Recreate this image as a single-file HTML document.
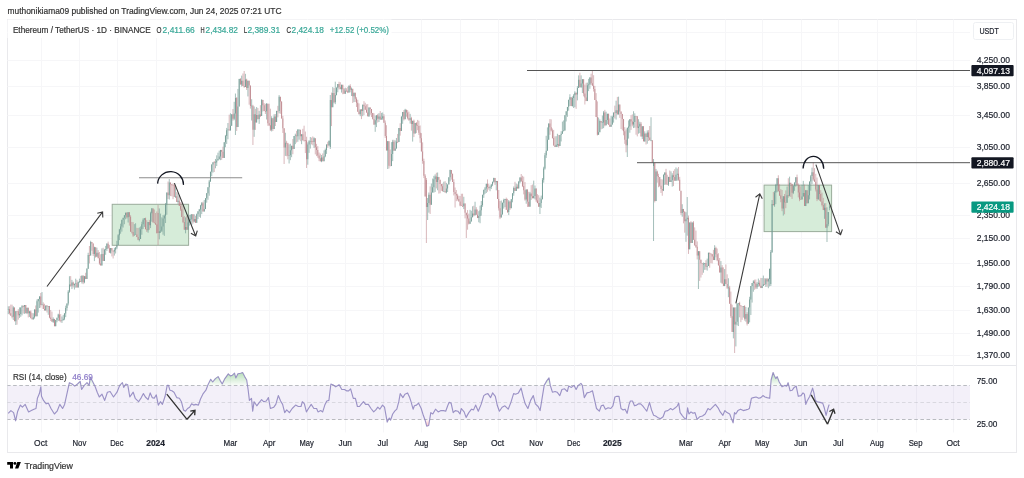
<!DOCTYPE html>
<html><head><meta charset="utf-8"><style>
html,body{margin:0;padding:0;background:#fff;}
body{width:1024px;height:478px;position:relative;overflow:hidden;font-family:"Liberation Sans",Arial,sans-serif;}
#chart{position:absolute;left:0;top:0;filter:blur(0.28px);}
</style></head><body>
<svg id="chart" width="1024" height="478" viewBox="0 0 1024 478">
<defs><filter id="cb" x="-5%" y="-5%" width="110%" height="110%"><feColorMatrix type="saturate" values="0.6"/><feGaussianBlur stdDeviation="0.35"/></filter><filter id="lb" x="-5%" y="-20%" width="110%" height="140%"><feGaussianBlur stdDeviation="0.3"/></filter></defs>
<rect x="7.5" y="19.5" width="1009" height="433" fill="none" stroke="#e9e9ec"/>
<path d="M7.5 365.5H1016" stroke="#e6e7eb" stroke-width="1"/>
<path d="M7.5 60.5H970M7.5 86.5H970M7.5 115.5H970M7.5 147.5H970M7.5 183.5H970M7.5 215.5H970M7.5 238.5H970M7.5 263.5H970M7.5 286.5H970M7.5 310.5H970M7.5 333.5H970M7.5 355.5H970M41.5 19.5V432.5M79.5 19.5V432.5M117.5 19.5V432.5M156.5 19.5V432.5M230.5 19.5V432.5M269.5 19.5V432.5M307.5 19.5V432.5M345.5 19.5V432.5M383.5 19.5V432.5M421.5 19.5V432.5M460.5 19.5V432.5M498.5 19.5V432.5M536.5 19.5V432.5M574.5 19.5V432.5M612.5 19.5V432.5M686.5 19.5V432.5M725.5 19.5V432.5M762.5 19.5V432.5M801.5 19.5V432.5M838.5 19.5V432.5M877.5 19.5V432.5M916.5 19.5V432.5M953.5 19.5V432.5M7.5 32.5H970" stroke="#f6f6f8" stroke-width="1" fill="none"/>
<rect x="7.5" y="19.5" width="384" height="18.5" fill="#fff"/>
<rect x="7.5" y="385.5" width="962.5" height="34.0" fill="#7e57c2" fill-opacity="0.09"/>
<path d="M7.5 385.5H970" stroke="#a9acb3" stroke-width="1" stroke-dasharray="3.6 2.53" stroke-dashoffset="0.49" opacity="0.8" fill="none"/>
<path d="M7.5 402.5H970" stroke="#a9acb3" stroke-width="1" stroke-dasharray="3.6 2.53" stroke-dashoffset="0.49" opacity="0.35" fill="none"/>
<path d="M7.5 419.5H970" stroke="#a9acb3" stroke-width="1" stroke-dasharray="3.6 2.53" stroke-dashoffset="0.49" opacity="0.8" fill="none"/>
<linearGradient id="obg" gradientUnits="userSpaceOnUse" x1="0" y1="371" x2="0" y2="385.5"><stop offset="0" stop-color="#4caf50" stop-opacity="0.45"/><stop offset="1" stop-color="#4caf50" stop-opacity="0.03"/></linearGradient>
<linearGradient id="osg" gradientUnits="userSpaceOnUse" x1="0" y1="419.5" x2="0" y2="428"><stop offset="0" stop-color="#f23645" stop-opacity="0.03"/><stop offset="1" stop-color="#f23645" stop-opacity="0.4"/></linearGradient>
<clipPath id="ob"><rect x="0" y="0" width="1024" height="385.5"/></clipPath>
<clipPath id="os"><rect x="0" y="419.5" width="1024" height="30"/></clipPath>
<polygon points="8.2,385.5 8.2,413.3 10.9,410.6 13.6,412.6 15.6,420.8 17.7,411.2 20.4,405.1 22.4,407.2 25.2,404.4 28.6,411.9 31.3,410.6 34.0,409.2 36.0,408.5 37.4,398.3 39.4,393.6 40.8,386.8 41.5,396.3 43.5,400.4 46.2,403.8 48.3,403.1 51.0,408.5 54.4,414.0 57.1,411.2 59.8,404.4 62.6,408.5 64.6,404.4 67.3,392.2 69.4,382.7 72.1,384.0 74.8,386.1 77.5,384.0 80.2,381.3 81.6,389.5 84.3,385.4 87.0,382.7 89.1,385.4 90.4,377.2 92.5,381.3 95.2,386.8 97.2,392.2 99.3,397.0 102.0,394.2 104.7,400.4 107.4,392.2 110.1,391.5 113.5,397.0 117.0,392.2 119.7,385.4 122.4,382.7 123.7,387.4 125.8,384.0 127.7,384.7 129.8,397.0 131.8,394.2 133.2,392.2 135.2,398.3 138.6,401.7 141.3,397.6 143.4,393.6 145.4,397.0 148.1,399.7 150.2,392.9 152.2,397.6 154.2,398.3 156.3,394.9 158.3,405.1 160.4,401.7 162.4,404.4 165.1,396.3 167.2,385.4 168.5,385.4 169.9,390.2 171.9,390.8 174.0,392.2 176.7,397.6 179.4,398.3 181.4,401.7 183.5,409.9 185.5,411.2 187.6,408.5 189.6,407.2 191.6,403.8 193.7,405.1 195.7,404.4 198.4,405.1 200.5,399.0 203.2,393.6 205.9,390.2 208.0,384.7 210.7,379.3 212.7,382.0 215.4,378.6 218.1,376.6 220.2,380.6 222.2,384.0 224.9,378.6 228.3,373.8 230.4,375.9 232.4,375.2 234.5,373.2 235.8,377.9 237.9,373.8 240.6,373.2 242.6,372.5 244.7,376.6 246.7,380.0 248.1,389.5 249.4,400.4 251.5,398.3 252.7,411.2 254.1,401.7 256.8,405.8 258.8,403.1 261.6,399.7 263.6,401.7 266.3,401.0 268.4,397.6 270.4,408.5 273.8,407.2 275.8,404.4 278.3,395.6 280.6,401.0 282.6,404.4 284.7,412.6 286.7,409.9 289.4,412.6 292.2,408.5 295.6,405.1 298.3,406.5 301.0,406.5 302.4,401.7 304.4,403.8 306.4,411.9 308.5,408.5 311.2,404.4 313.9,408.5 316.6,408.5 318.0,411.9 320.7,410.6 322.7,411.9 324.8,405.1 326.8,401.0 328.9,400.4 330.9,384.0 332.9,384.7 335.7,386.8 339.1,384.7 341.8,389.5 344.5,389.5 346.5,390.8 348.6,390.8 350.6,388.8 353.3,398.3 355.4,398.3 357.4,406.5 359.5,406.5 361.5,403.8 363.5,401.7 365.6,404.4 368.3,404.4 371.0,408.5 373.7,411.9 375.8,409.9 377.8,407.2 379.8,409.2 382.5,405.1 384.5,407.2 387.2,422.1 389.3,418.0 390.6,420.1 392.7,414.0 394.7,411.2 396.8,409.2 398.8,401.7 400.2,393.6 402.9,397.6 404.9,394.2 407.6,392.9 409.7,397.6 411.0,401.7 413.1,409.2 414.4,405.8 416.5,405.1 418.5,403.1 421.2,408.5 423.3,415.3 425.3,420.8 426.7,426.2 428.7,425.5 430.8,412.6 432.8,414.0 435.5,409.2 438.2,411.9 441.0,410.6 443.7,410.6 445.7,411.2 447.7,405.8 449.1,402.4 451.1,403.1 453.2,412.6 455.2,410.6 457.9,411.2 460.0,414.0 461.3,408.5 464.1,411.9 466.1,417.4 468.8,412.6 471.5,409.2 473.6,409.9 475.6,405.1 478.3,411.2 481.1,404.4 483.8,395.6 485.8,394.2 487.9,393.6 490.6,397.6 492.6,392.9 495.3,396.3 497.4,405.8 499.4,411.2 502.1,407.2 504.9,405.8 508.2,409.2 510.9,402.4 513.6,393.6 515.6,394.2 518.4,392.9 521.1,388.1 523.1,396.3 525.2,403.8 527.9,408.5 530.6,400.4 533.3,395.6 535.4,403.8 538.1,406.5 540.1,410.6 542.2,397.6 544.2,385.4 546.9,380.6 549.0,377.9 550.3,385.4 552.4,392.2 555.1,391.5 557.1,392.2 559.8,395.6 561.9,389.5 564.6,388.8 567.3,391.5 568.7,386.1 571.4,387.4 574.1,385.4 576.1,389.5 578.2,385.4 580.9,383.4 582.3,385.4 584.3,397.6 587.0,392.9 589.7,392.2 592.5,390.8 594.5,399.7 596.5,408.5 599.3,411.2 601.3,405.8 603.3,405.1 605.4,409.2 608.1,407.8 610.8,408.5 612.9,405.8 614.9,397.0 616.9,396.3 619.0,396.3 621.0,408.5 623.1,409.9 625.1,409.2 627.1,413.3 629.1,404.4 630.4,401.0 632.5,401.0 634.5,405.8 636.6,405.1 638.6,403.8 640.6,403.8 642.7,405.8 644.7,408.5 646.8,411.2 649.5,402.4 651.5,409.9 653.6,415.3 655.6,416.0 657.6,417.4 660.4,418.7 663.1,416.7 665.1,411.2 667.8,410.6 670.6,408.5 672.6,409.9 675.3,407.8 677.4,405.8 678.7,403.1 680.1,412.6 682.1,415.3 684.2,418.0 686.2,419.4 687.6,407.8 688.9,414.0 691.0,411.9 693.0,413.3 695.0,412.6 697.1,419.4 699.8,416.7 702.5,416.0 705.2,414.0 708.0,408.5 710.0,409.9 712.7,407.2 715.4,404.4 718.1,407.8 720.2,411.9 722.9,415.3 724.9,410.6 727.0,412.6 729.7,414.0 731.7,419.4 733.1,422.8 734.5,412.6 735.8,414.0 737.9,410.6 740.6,409.2 743.3,410.6 746.0,409.9 748.1,409.2 749.4,408.5 751.4,398.3 753.4,397.6 756.1,397.0 758.8,398.3 760.9,397.6 762.9,395.6 765.0,397.0 767.0,397.6 769.7,398.3 771.1,380.0 773.1,372.5 774.5,375.9 775.8,378.6 777.2,376.6 779.2,382.0 782.0,386.8 784.7,385.4 786.7,386.1 788.1,382.7 790.1,390.8 792.2,390.2 794.2,387.4 796.2,386.1 798.3,396.3 801.0,395.6 803.0,392.9 804.4,394.2 805.8,404.4 807.1,401.0 809.8,396.3 812.6,388.1 813.9,392.9 815.3,400.4 817.3,401.7 820.0,402.4 822.7,403.1 824.1,407.2 826.1,415.3 827.5,409.9 828.9,405.1 829.5,404.9 829.5,385.5" fill="url(#obg)" clip-path="url(#ob)"/>
<polygon points="8.2,419.5 8.2,413.3 10.9,410.6 13.6,412.6 15.6,420.8 17.7,411.2 20.4,405.1 22.4,407.2 25.2,404.4 28.6,411.9 31.3,410.6 34.0,409.2 36.0,408.5 37.4,398.3 39.4,393.6 40.8,386.8 41.5,396.3 43.5,400.4 46.2,403.8 48.3,403.1 51.0,408.5 54.4,414.0 57.1,411.2 59.8,404.4 62.6,408.5 64.6,404.4 67.3,392.2 69.4,382.7 72.1,384.0 74.8,386.1 77.5,384.0 80.2,381.3 81.6,389.5 84.3,385.4 87.0,382.7 89.1,385.4 90.4,377.2 92.5,381.3 95.2,386.8 97.2,392.2 99.3,397.0 102.0,394.2 104.7,400.4 107.4,392.2 110.1,391.5 113.5,397.0 117.0,392.2 119.7,385.4 122.4,382.7 123.7,387.4 125.8,384.0 127.7,384.7 129.8,397.0 131.8,394.2 133.2,392.2 135.2,398.3 138.6,401.7 141.3,397.6 143.4,393.6 145.4,397.0 148.1,399.7 150.2,392.9 152.2,397.6 154.2,398.3 156.3,394.9 158.3,405.1 160.4,401.7 162.4,404.4 165.1,396.3 167.2,385.4 168.5,385.4 169.9,390.2 171.9,390.8 174.0,392.2 176.7,397.6 179.4,398.3 181.4,401.7 183.5,409.9 185.5,411.2 187.6,408.5 189.6,407.2 191.6,403.8 193.7,405.1 195.7,404.4 198.4,405.1 200.5,399.0 203.2,393.6 205.9,390.2 208.0,384.7 210.7,379.3 212.7,382.0 215.4,378.6 218.1,376.6 220.2,380.6 222.2,384.0 224.9,378.6 228.3,373.8 230.4,375.9 232.4,375.2 234.5,373.2 235.8,377.9 237.9,373.8 240.6,373.2 242.6,372.5 244.7,376.6 246.7,380.0 248.1,389.5 249.4,400.4 251.5,398.3 252.7,411.2 254.1,401.7 256.8,405.8 258.8,403.1 261.6,399.7 263.6,401.7 266.3,401.0 268.4,397.6 270.4,408.5 273.8,407.2 275.8,404.4 278.3,395.6 280.6,401.0 282.6,404.4 284.7,412.6 286.7,409.9 289.4,412.6 292.2,408.5 295.6,405.1 298.3,406.5 301.0,406.5 302.4,401.7 304.4,403.8 306.4,411.9 308.5,408.5 311.2,404.4 313.9,408.5 316.6,408.5 318.0,411.9 320.7,410.6 322.7,411.9 324.8,405.1 326.8,401.0 328.9,400.4 330.9,384.0 332.9,384.7 335.7,386.8 339.1,384.7 341.8,389.5 344.5,389.5 346.5,390.8 348.6,390.8 350.6,388.8 353.3,398.3 355.4,398.3 357.4,406.5 359.5,406.5 361.5,403.8 363.5,401.7 365.6,404.4 368.3,404.4 371.0,408.5 373.7,411.9 375.8,409.9 377.8,407.2 379.8,409.2 382.5,405.1 384.5,407.2 387.2,422.1 389.3,418.0 390.6,420.1 392.7,414.0 394.7,411.2 396.8,409.2 398.8,401.7 400.2,393.6 402.9,397.6 404.9,394.2 407.6,392.9 409.7,397.6 411.0,401.7 413.1,409.2 414.4,405.8 416.5,405.1 418.5,403.1 421.2,408.5 423.3,415.3 425.3,420.8 426.7,426.2 428.7,425.5 430.8,412.6 432.8,414.0 435.5,409.2 438.2,411.9 441.0,410.6 443.7,410.6 445.7,411.2 447.7,405.8 449.1,402.4 451.1,403.1 453.2,412.6 455.2,410.6 457.9,411.2 460.0,414.0 461.3,408.5 464.1,411.9 466.1,417.4 468.8,412.6 471.5,409.2 473.6,409.9 475.6,405.1 478.3,411.2 481.1,404.4 483.8,395.6 485.8,394.2 487.9,393.6 490.6,397.6 492.6,392.9 495.3,396.3 497.4,405.8 499.4,411.2 502.1,407.2 504.9,405.8 508.2,409.2 510.9,402.4 513.6,393.6 515.6,394.2 518.4,392.9 521.1,388.1 523.1,396.3 525.2,403.8 527.9,408.5 530.6,400.4 533.3,395.6 535.4,403.8 538.1,406.5 540.1,410.6 542.2,397.6 544.2,385.4 546.9,380.6 549.0,377.9 550.3,385.4 552.4,392.2 555.1,391.5 557.1,392.2 559.8,395.6 561.9,389.5 564.6,388.8 567.3,391.5 568.7,386.1 571.4,387.4 574.1,385.4 576.1,389.5 578.2,385.4 580.9,383.4 582.3,385.4 584.3,397.6 587.0,392.9 589.7,392.2 592.5,390.8 594.5,399.7 596.5,408.5 599.3,411.2 601.3,405.8 603.3,405.1 605.4,409.2 608.1,407.8 610.8,408.5 612.9,405.8 614.9,397.0 616.9,396.3 619.0,396.3 621.0,408.5 623.1,409.9 625.1,409.2 627.1,413.3 629.1,404.4 630.4,401.0 632.5,401.0 634.5,405.8 636.6,405.1 638.6,403.8 640.6,403.8 642.7,405.8 644.7,408.5 646.8,411.2 649.5,402.4 651.5,409.9 653.6,415.3 655.6,416.0 657.6,417.4 660.4,418.7 663.1,416.7 665.1,411.2 667.8,410.6 670.6,408.5 672.6,409.9 675.3,407.8 677.4,405.8 678.7,403.1 680.1,412.6 682.1,415.3 684.2,418.0 686.2,419.4 687.6,407.8 688.9,414.0 691.0,411.9 693.0,413.3 695.0,412.6 697.1,419.4 699.8,416.7 702.5,416.0 705.2,414.0 708.0,408.5 710.0,409.9 712.7,407.2 715.4,404.4 718.1,407.8 720.2,411.9 722.9,415.3 724.9,410.6 727.0,412.6 729.7,414.0 731.7,419.4 733.1,422.8 734.5,412.6 735.8,414.0 737.9,410.6 740.6,409.2 743.3,410.6 746.0,409.9 748.1,409.2 749.4,408.5 751.4,398.3 753.4,397.6 756.1,397.0 758.8,398.3 760.9,397.6 762.9,395.6 765.0,397.0 767.0,397.6 769.7,398.3 771.1,380.0 773.1,372.5 774.5,375.9 775.8,378.6 777.2,376.6 779.2,382.0 782.0,386.8 784.7,385.4 786.7,386.1 788.1,382.7 790.1,390.8 792.2,390.2 794.2,387.4 796.2,386.1 798.3,396.3 801.0,395.6 803.0,392.9 804.4,394.2 805.8,404.4 807.1,401.0 809.8,396.3 812.6,388.1 813.9,392.9 815.3,400.4 817.3,401.7 820.0,402.4 822.7,403.1 824.1,407.2 826.1,415.3 827.5,409.9 828.9,405.1 829.5,404.9 829.5,419.5" fill="url(#osg)" clip-path="url(#os)"/>
<polyline points="8.2,413.3 10.9,410.6 13.6,412.6 15.6,420.8 17.7,411.2 20.4,405.1 22.4,407.2 25.2,404.4 28.6,411.9 31.3,410.6 34.0,409.2 36.0,408.5 37.4,398.3 39.4,393.6 40.8,386.8 41.5,396.3 43.5,400.4 46.2,403.8 48.3,403.1 51.0,408.5 54.4,414.0 57.1,411.2 59.8,404.4 62.6,408.5 64.6,404.4 67.3,392.2 69.4,382.7 72.1,384.0 74.8,386.1 77.5,384.0 80.2,381.3 81.6,389.5 84.3,385.4 87.0,382.7 89.1,385.4 90.4,377.2 92.5,381.3 95.2,386.8 97.2,392.2 99.3,397.0 102.0,394.2 104.7,400.4 107.4,392.2 110.1,391.5 113.5,397.0 117.0,392.2 119.7,385.4 122.4,382.7 123.7,387.4 125.8,384.0 127.7,384.7 129.8,397.0 131.8,394.2 133.2,392.2 135.2,398.3 138.6,401.7 141.3,397.6 143.4,393.6 145.4,397.0 148.1,399.7 150.2,392.9 152.2,397.6 154.2,398.3 156.3,394.9 158.3,405.1 160.4,401.7 162.4,404.4 165.1,396.3 167.2,385.4 168.5,385.4 169.9,390.2 171.9,390.8 174.0,392.2 176.7,397.6 179.4,398.3 181.4,401.7 183.5,409.9 185.5,411.2 187.6,408.5 189.6,407.2 191.6,403.8 193.7,405.1 195.7,404.4 198.4,405.1 200.5,399.0 203.2,393.6 205.9,390.2 208.0,384.7 210.7,379.3 212.7,382.0 215.4,378.6 218.1,376.6 220.2,380.6 222.2,384.0 224.9,378.6 228.3,373.8 230.4,375.9 232.4,375.2 234.5,373.2 235.8,377.9 237.9,373.8 240.6,373.2 242.6,372.5 244.7,376.6 246.7,380.0 248.1,389.5 249.4,400.4 251.5,398.3 252.7,411.2 254.1,401.7 256.8,405.8 258.8,403.1 261.6,399.7 263.6,401.7 266.3,401.0 268.4,397.6 270.4,408.5 273.8,407.2 275.8,404.4 278.3,395.6 280.6,401.0 282.6,404.4 284.7,412.6 286.7,409.9 289.4,412.6 292.2,408.5 295.6,405.1 298.3,406.5 301.0,406.5 302.4,401.7 304.4,403.8 306.4,411.9 308.5,408.5 311.2,404.4 313.9,408.5 316.6,408.5 318.0,411.9 320.7,410.6 322.7,411.9 324.8,405.1 326.8,401.0 328.9,400.4 330.9,384.0 332.9,384.7 335.7,386.8 339.1,384.7 341.8,389.5 344.5,389.5 346.5,390.8 348.6,390.8 350.6,388.8 353.3,398.3 355.4,398.3 357.4,406.5 359.5,406.5 361.5,403.8 363.5,401.7 365.6,404.4 368.3,404.4 371.0,408.5 373.7,411.9 375.8,409.9 377.8,407.2 379.8,409.2 382.5,405.1 384.5,407.2 387.2,422.1 389.3,418.0 390.6,420.1 392.7,414.0 394.7,411.2 396.8,409.2 398.8,401.7 400.2,393.6 402.9,397.6 404.9,394.2 407.6,392.9 409.7,397.6 411.0,401.7 413.1,409.2 414.4,405.8 416.5,405.1 418.5,403.1 421.2,408.5 423.3,415.3 425.3,420.8 426.7,426.2 428.7,425.5 430.8,412.6 432.8,414.0 435.5,409.2 438.2,411.9 441.0,410.6 443.7,410.6 445.7,411.2 447.7,405.8 449.1,402.4 451.1,403.1 453.2,412.6 455.2,410.6 457.9,411.2 460.0,414.0 461.3,408.5 464.1,411.9 466.1,417.4 468.8,412.6 471.5,409.2 473.6,409.9 475.6,405.1 478.3,411.2 481.1,404.4 483.8,395.6 485.8,394.2 487.9,393.6 490.6,397.6 492.6,392.9 495.3,396.3 497.4,405.8 499.4,411.2 502.1,407.2 504.9,405.8 508.2,409.2 510.9,402.4 513.6,393.6 515.6,394.2 518.4,392.9 521.1,388.1 523.1,396.3 525.2,403.8 527.9,408.5 530.6,400.4 533.3,395.6 535.4,403.8 538.1,406.5 540.1,410.6 542.2,397.6 544.2,385.4 546.9,380.6 549.0,377.9 550.3,385.4 552.4,392.2 555.1,391.5 557.1,392.2 559.8,395.6 561.9,389.5 564.6,388.8 567.3,391.5 568.7,386.1 571.4,387.4 574.1,385.4 576.1,389.5 578.2,385.4 580.9,383.4 582.3,385.4 584.3,397.6 587.0,392.9 589.7,392.2 592.5,390.8 594.5,399.7 596.5,408.5 599.3,411.2 601.3,405.8 603.3,405.1 605.4,409.2 608.1,407.8 610.8,408.5 612.9,405.8 614.9,397.0 616.9,396.3 619.0,396.3 621.0,408.5 623.1,409.9 625.1,409.2 627.1,413.3 629.1,404.4 630.4,401.0 632.5,401.0 634.5,405.8 636.6,405.1 638.6,403.8 640.6,403.8 642.7,405.8 644.7,408.5 646.8,411.2 649.5,402.4 651.5,409.9 653.6,415.3 655.6,416.0 657.6,417.4 660.4,418.7 663.1,416.7 665.1,411.2 667.8,410.6 670.6,408.5 672.6,409.9 675.3,407.8 677.4,405.8 678.7,403.1 680.1,412.6 682.1,415.3 684.2,418.0 686.2,419.4 687.6,407.8 688.9,414.0 691.0,411.9 693.0,413.3 695.0,412.6 697.1,419.4 699.8,416.7 702.5,416.0 705.2,414.0 708.0,408.5 710.0,409.9 712.7,407.2 715.4,404.4 718.1,407.8 720.2,411.9 722.9,415.3 724.9,410.6 727.0,412.6 729.7,414.0 731.7,419.4 733.1,422.8 734.5,412.6 735.8,414.0 737.9,410.6 740.6,409.2 743.3,410.6 746.0,409.9 748.1,409.2 749.4,408.5 751.4,398.3 753.4,397.6 756.1,397.0 758.8,398.3 760.9,397.6 762.9,395.6 765.0,397.0 767.0,397.6 769.7,398.3 771.1,380.0 773.1,372.5 774.5,375.9 775.8,378.6 777.2,376.6 779.2,382.0 782.0,386.8 784.7,385.4 786.7,386.1 788.1,382.7 790.1,390.8 792.2,390.2 794.2,387.4 796.2,386.1 798.3,396.3 801.0,395.6 803.0,392.9 804.4,394.2 805.8,404.4 807.1,401.0 809.8,396.3 812.6,388.1 813.9,392.9 815.3,400.4 817.3,401.7 820.0,402.4 822.7,403.1 824.1,407.2 826.1,415.3 827.5,409.9 828.9,405.1 829.5,404.9" fill="none" stroke="#8c82bd" stroke-width="1.15" stroke-linejoin="round" opacity="0.85" filter="url(#lb)"/>
<rect x="112.2" y="204.3" width="76.39999999999999" height="41.0" fill="#d6ecd9" stroke="#9aac9b" stroke-width="1"/>
<rect x="764.1" y="185.1" width="67.5" height="46.5" fill="#d6ecd9" stroke="#9aac9b" stroke-width="1"/>
<g filter="url(#cb)">
<path d="M8.30 306.29V314.14M13.29 306.20V319.97M15.79 311.13V325.01M19.53 307.41V317.91M20.78 307.38V316.83M22.03 305.16V315.37M24.53 305.04V313.84M27.02 307.75V314.11M29.52 310.84V316.91M33.26 313.31V319.69M34.51 309.42V318.60M37.01 299.48V316.33M38.25 298.89V312.58M39.50 296.29V308.01M42.00 292.06V305.04M45.74 305.56V310.56M48.24 305.97V314.77M53.23 317.44V322.90M55.73 320.10V326.19M56.97 317.71V322.32M58.22 313.73V320.96M61.97 316.48V322.88M63.21 314.88V320.37M64.46 313.06V320.14M65.71 305.68V317.13M66.96 303.43V310.71M68.21 290.18V305.47M69.45 276.23V292.76M71.95 279.89V289.06M74.45 283.77V289.51M75.69 278.68V287.68M78.19 281.79V287.50M79.44 278.63V282.80M81.93 275.46V283.50M84.43 275.93V283.25M86.93 268.29V278.92M88.17 252.77V268.87M90.67 240.76V255.58M94.41 246.72V261.10M96.91 247.65V256.67M101.90 248.41V265.54M104.40 248.88V260.99M105.65 245.91V254.75M106.89 243.21V250.88M110.64 247.96V253.59M114.38 247.86V255.59M115.63 247.09V253.53M116.88 240.79V249.13M118.13 234.16V245.01M119.37 228.87V240.09M120.62 223.70V233.72M121.87 219.83V231.65M123.12 217.80V227.58M124.37 215.23V224.23M125.61 212.67V219.29M128.11 212.15V222.50M134.35 224.10V235.44M135.60 223.24V234.63M139.34 227.44V241.42M140.59 226.44V239.05M141.84 221.74V234.78M143.09 218.33V228.96M144.33 218.18V226.90M148.08 222.04V232.75M150.57 211.73V228.09M151.82 208.02V221.68M159.31 208.41V239.37M160.56 213.60V233.03M161.81 217.33V232.02M163.05 215.07V234.70M164.30 214.53V235.86M165.55 202.97V223.04M166.80 192.58V214.78M169.29 179.00V199.54M175.53 185.54V198.04M178.03 192.90V203.82M185.52 217.38V233.33M188.01 214.57V229.69M189.26 214.89V225.61M190.51 214.58V223.28M191.76 214.05V225.00M194.25 214.30V222.37M196.75 213.55V222.87M198.00 211.36V219.13M199.25 208.96V216.91M200.49 204.85V217.80M201.74 202.05V214.20M204.24 199.99V211.52M205.49 198.17V209.12M206.73 192.97V202.70M207.98 187.15V199.78M209.23 179.88V195.75M210.48 171.76V181.80M211.73 164.41V176.19M212.97 162.33V172.61M215.47 158.94V168.27M216.72 155.32V166.01M217.97 152.68V160.43M219.21 150.68V159.59M220.46 149.88V160.16M224.21 142.22V157.94M225.45 134.94V147.19M226.70 127.92V143.95M227.95 123.02V139.27M230.45 113.28V130.43M231.69 114.36V125.86M234.19 101.82V120.17M235.44 93.54V135.00M237.93 88.94V127.04M239.18 78.85V106.48M241.68 75.63V86.55M245.42 73.83V86.98M247.92 80.67V96.43M251.66 99.22V120.50M254.16 106.51V136.82M256.65 107.07V122.51M259.15 110.83V123.90M261.65 99.13V115.91M266.64 103.08V119.47M271.63 116.25V131.44M274.13 114.23V129.11M276.62 110.74V121.98M279.12 95.13V113.37M285.36 132.76V155.92M289.10 144.38V163.48M290.35 143.76V160.18M291.60 145.85V157.18M294.09 136.01V148.94M295.34 133.70V144.12M297.84 129.06V141.75M299.09 129.41V139.68M301.58 134.19V144.17M307.82 142.39V164.72M309.07 140.17V152.85M310.32 137.00V148.57M314.06 137.34V147.90M321.55 154.97V162.20M324.05 150.40V161.24M325.29 148.57V157.26M326.54 144.49V153.93M329.04 140.64V146.24M330.29 95.00V149.00M332.78 87.05V107.20M335.28 81.67V104.18M336.53 87.30V95.41M337.77 84.04V92.27M341.52 84.75V92.58M345.26 87.76V93.80M349.01 85.20V92.49M351.50 87.54V96.00M354.00 92.69V102.11M360.24 109.36V116.18M362.73 104.65V116.16M368.97 107.42V116.91M375.21 115.60V131.84M376.46 115.32V127.08M378.96 113.20V122.01M381.45 112.88V119.54M382.70 112.48V119.87M387.69 140.93V169.00M391.44 142.13V166.10M392.69 139.83V161.12M395.18 140.40V150.64M396.43 137.97V148.53M398.93 128.00V141.96M401.42 116.45V130.88M402.67 111.97V123.79M405.17 108.82V119.23M410.16 113.86V123.57M412.65 120.85V141.59M415.15 123.00V133.56M427.63 198.00V220.00M428.88 192.50V212.67M431.37 183.54V204.74M432.62 178.56V192.44M433.87 175.85V192.76M435.12 174.38V192.00M437.61 172.51V190.26M443.85 181.70V191.86M446.35 182.88V193.35M447.60 184.39V191.97M448.85 177.33V184.39M450.09 169.69V181.39M463.82 196.78V209.10M470.06 209.85V223.82M471.31 210.74V221.45M472.56 206.30V217.26M475.05 201.75V215.35M478.80 211.21V222.26M480.05 205.71V223.24M481.29 200.99V215.70M482.54 194.86V206.80M483.79 189.83V197.83M485.04 186.94V193.84M486.29 183.86V193.00M490.03 185.62V191.22M491.28 184.14V188.98M492.53 181.76V186.08M493.77 177.72V182.66M496.27 180.96V190.36M501.26 200.55V217.45M502.51 202.67V214.41M503.76 198.70V208.63M505.01 198.93V207.13M508.75 200.02V215.07M511.25 199.20V208.13M512.49 193.30V202.34M513.74 186.50V195.75M516.24 183.64V190.90M518.73 180.96V188.40M519.98 177.28V183.18M526.22 189.45V203.72M529.97 191.87V206.65M533.71 180.60V198.24M534.96 185.51V199.33M539.95 197.64V214.00M541.20 195.62V208.00M542.45 178.00V199.27M543.69 166.76V182.67M544.94 152.95V169.61M546.19 135.81V157.97M547.44 127.40V150.66M548.69 123.46V139.64M556.17 136.21V146.89M557.42 133.77V146.84M559.92 135.04V145.96M561.17 131.20V141.48M562.41 121.60V133.72M563.66 120.42V131.19M564.91 115.19V130.59M566.16 111.32V121.46M567.41 106.88V116.84M568.65 99.82V110.66M569.90 94.24V106.05M572.40 96.42V106.60M573.65 94.09V108.00M574.89 91.25V107.24M577.39 86.20V100.37M578.64 75.37V88.01M581.13 75.38V87.66M582.38 79.20V93.03M587.37 82.63V101.11M588.62 78.89V91.11M589.87 77.27V88.77M598.61 117.56V134.84M599.85 119.42V132.18M602.35 115.51V128.72M603.60 111.06V128.16M606.09 111.66V125.35M607.34 113.74V124.07M611.09 115.92V126.84M612.33 115.60V124.63M613.58 112.60V122.61M616.08 100.69V119.57M618.57 96.67V114.41M627.31 127.68V157.00M628.56 120.44V138.60M629.81 119.21V132.74M633.55 111.23V128.04M634.80 113.33V127.69M638.54 119.21V133.71M639.79 121.71V133.11M642.29 126.22V139.08M644.78 131.34V141.83M647.28 130.38V143.73M651.02 117.25V141.21M653.52 159.00V241.00M656.01 168.98V201.10M663.50 174.27V191.04M664.75 172.46V184.90M668.49 176.79V185.95M670.99 171.34V181.94M672.24 173.28V186.63M675.98 167.41V180.78M677.23 168.56V180.66M682.22 204.22V216.73M685.97 212.23V241.83M687.21 197.00V235.66M689.71 222.44V249.36M692.21 222.49V242.99M698.45 251.15V289.00M703.44 262.50V272.73M704.69 262.96V269.88M707.18 258.62V270.61M708.43 252.68V266.03M714.67 245.20V260.08M720.91 261.09V282.72M724.65 269.06V286.08M728.40 278.25V297.17M733.39 307.56V338.38M735.89 307.37V346.42M737.13 303.54V325.35M738.38 302.94V326.06M743.37 306.00V317.57M745.87 306.97V321.65M748.37 307.61V323.68M749.61 296.81V322.39M750.86 286.02V314.97M752.11 283.10V302.59M753.36 280.25V291.73M757.10 282.19V288.93M758.35 278.58V286.71M762.09 278.04V288.12M763.34 275.57V285.93M765.84 278.14V286.96M768.33 278.33V288.19M769.58 268.76V286.43M770.83 250.00V286.00M772.08 200.00V253.00M774.57 190.94V206.80M775.82 183.90V204.11M777.07 178.23V192.24M783.31 196.25V215.60M787.05 186.56V202.73M789.55 176.66V196.42M793.29 185.73V194.11M794.54 182.40V190.83M795.79 177.25V186.68M802.03 184.89V199.41M803.28 180.87V196.52M805.77 189.95V206.12M808.27 185.04V203.18M809.52 181.56V199.42M810.77 174.96V190.70M812.01 167.61V183.94M818.25 185.12V200.04M824.49 203.29V218.83M826.99 207.32V242.00M828.24 212.11V226.22M829.49 205.37V210.28" stroke="#4e9e92" stroke-width="0.7" fill="none" opacity="0.9"/>
<path d="M9.55 306.14V314.66M10.80 304.55V315.73M12.05 304.67V318.38M14.54 307.48V321.16M17.04 311.13V324.64M18.29 309.11V319.63M23.28 305.30V313.60M25.77 305.04V313.60M28.27 307.75V317.39M30.77 310.46V318.13M32.01 312.89V319.32M35.76 305.50V316.33M40.75 292.97V307.62M43.25 302.36V308.90M44.49 303.77V310.39M46.99 305.27V312.52M49.49 305.97V318.28M50.73 309.98V321.00M51.98 311.61V321.68M54.48 318.85V326.19M59.47 309.75V321.35M60.72 314.14V322.35M70.70 276.10V286.73M73.20 281.61V287.44M76.94 279.92V287.50M80.69 275.88V282.01M83.18 275.30V284.16M85.68 272.77V279.11M89.42 246.01V263.45M91.92 242.11V250.68M93.17 243.44V255.95M95.66 247.29V257.76M98.16 250.12V258.19M99.41 252.03V264.76M100.65 254.30V265.38M103.15 247.78V260.99M108.14 241.62V248.71M109.39 244.85V252.63M111.89 247.99V256.41M113.13 250.58V258.47M126.86 212.21V218.53M129.36 212.15V225.64M130.61 215.22V231.64M131.85 221.88V233.52M133.10 222.13V236.94M136.85 227.82V237.11M138.09 228.01V240.24M145.58 217.62V229.25M146.83 220.15V232.02M149.33 219.88V229.80M153.07 208.50V222.43M154.32 209.46V223.21M155.57 213.00V224.82M156.81 211.47V233.34M158.06 205.00V245.00M168.05 181.52V198.94M170.54 182.62V196.08M171.79 184.17V196.27M173.04 183.49V199.16M174.29 183.55V197.00M176.78 192.09V201.91M179.28 195.65V205.92M180.53 202.20V210.78M181.77 202.65V216.90M183.02 205.53V223.06M184.27 215.89V229.69M186.77 215.71V229.84M193.01 214.21V223.57M195.50 215.89V222.87M202.99 201.71V211.52M214.22 161.04V172.01M221.71 149.88V159.89M222.96 146.69V157.94M229.20 114.68V130.43M232.94 109.02V120.68M236.69 97.09V130.96M240.43 78.02V84.59M242.93 73.48V86.02M244.17 71.00V87.84M246.67 78.72V89.99M249.17 80.67V104.70M250.41 85.60V108.62M252.91 104.81V145.00M255.41 108.81V129.90M257.90 107.99V119.48M260.40 105.18V117.04M262.89 99.93V111.44M264.14 103.16V111.05M265.39 103.85V114.03M267.89 103.67V125.78M269.13 103.74V126.07M270.38 108.71V131.02M272.88 118.25V131.00M275.37 114.00V126.01M277.87 105.84V117.32M280.37 96.87V113.80M281.61 101.38V118.57M282.86 115.86V132.97M284.11 128.22V164.00M286.61 140.77V156.23M287.85 142.82V159.32M292.85 139.02V154.23M296.59 130.91V142.53M300.33 129.74V141.22M302.83 128.83V140.88M304.08 125.69V141.56M305.33 131.54V153.06M306.57 136.76V168.00M311.57 137.62V144.41M312.81 136.44V145.29M315.31 138.37V154.42M316.56 143.85V156.11M317.81 146.12V157.72M319.05 152.49V161.17M320.30 153.57V161.36M322.80 153.43V161.24M327.79 141.81V147.78M331.53 92.62V126.08M334.03 88.07V103.29M339.02 81.74V89.41M340.27 82.20V89.16M342.77 84.75V94.22M344.01 88.06V93.80M346.51 88.23V91.78M347.76 86.86V93.16M350.25 84.23V92.33M352.75 88.83V103.00M355.25 92.69V101.96M356.49 97.20V107.01M357.74 99.78V112.04M358.99 103.45V114.27M361.49 109.05V119.12M363.98 101.17V115.14M365.23 102.74V109.84M366.48 104.41V112.73M367.73 104.11V116.35M370.22 107.42V114.76M371.47 109.07V117.06M372.72 112.94V119.56M373.97 113.31V124.98M377.71 113.88V122.54M380.21 111.07V119.99M383.95 114.16V122.77M385.20 120.47V137.95M386.45 125.21V150.40M388.94 141.16V168.53M390.19 149.47V166.10M393.93 139.83V150.69M397.68 133.95V143.07M400.17 123.27V135.65M403.92 110.08V120.46M406.41 109.75V116.71M407.66 110.11V119.42M408.91 111.66V120.83M411.41 116.79V130.66M413.90 119.62V137.06M416.40 122.10V133.04M417.65 119.92V130.21M418.89 120.70V134.94M420.14 125.47V142.76M421.39 133.10V151.40M422.64 142.35V163.76M423.89 158.70V178.09M425.13 174.16V196.47M426.38 178.00V243.00M430.13 186.38V213.97M436.37 172.75V188.42M438.86 176.92V193.63M440.11 179.80V193.25M441.36 184.06V190.85M442.61 183.66V191.34M445.10 181.19V192.39M451.34 170.00V179.67M452.59 173.63V181.98M453.84 179.21V195.45M455.09 187.52V207.54M456.33 190.06V201.20M457.58 193.76V200.53M458.83 195.63V201.50M460.08 196.03V206.31M461.33 193.77V205.96M462.57 193.71V207.06M465.07 203.45V218.34M466.32 212.80V238.00M467.57 210.06V229.70M468.81 213.64V224.53M473.81 205.71V216.38M476.30 207.17V214.78M477.55 209.50V218.08M487.53 179.44V191.73M488.78 183.77V189.68M495.02 177.92V184.96M497.52 180.96V198.93M498.77 190.00V210.57M500.01 201.03V219.10M506.25 197.61V209.83M507.50 198.80V212.93M510.00 201.39V209.93M514.99 181.77V190.90M517.49 184.32V188.49M521.23 174.00V181.81M522.48 175.76V187.07M523.73 176.67V194.39M524.97 182.05V200.65M527.47 189.45V206.93M528.72 191.80V206.65M531.21 185.19V199.90M532.46 184.54V198.24M536.21 188.45V202.11M537.45 194.19V203.29M538.70 195.24V206.80M549.93 119.09V134.80M551.18 119.39V131.48M552.43 128.56V138.57M553.68 129.93V145.62M554.93 136.32V146.89M558.67 134.86V147.52M571.15 97.19V106.12M576.14 92.66V108.88M579.89 72.70V87.18M583.63 79.20V96.37M584.88 84.60V104.49M586.13 82.74V101.11M591.12 73.69V84.89M592.37 70.00V85.73M593.61 75.21V91.56M594.86 85.89V100.02M596.11 93.14V117.05M597.36 101.41V135.47M601.10 121.10V129.35M604.85 109.85V126.34M608.59 113.74V124.76M609.84 118.46V126.84M614.83 105.67V118.41M617.33 96.95V114.41M619.82 104.54V117.93M621.07 111.54V128.97M622.32 113.88V130.40M623.57 118.95V135.29M624.81 127.19V143.82M626.06 129.48V152.32M631.05 115.20V129.91M632.30 114.36V126.36M636.05 115.88V134.68M637.29 116.20V136.39M641.04 122.05V136.55M643.53 126.22V141.45M646.03 133.55V144.53M648.53 130.13V140.98M649.77 126.00V140.26M652.27 140.25V162.47M654.77 163.00V202.44M657.26 170.63V182.65M658.51 173.80V187.25M659.76 177.04V186.75M661.01 179.08V192.96M662.25 179.49V195.72M666.00 168.84V184.48M667.25 174.79V184.72M669.74 170.53V181.94M673.49 170.83V186.07M674.73 169.16V180.78M678.48 167.01V180.90M679.73 176.88V190.75M680.97 190.75V214.90M683.47 208.92V223.35M684.72 211.06V232.68M688.46 215.55V253.95M690.96 221.23V242.99M693.45 221.08V239.87M694.70 227.38V245.91M695.95 230.57V247.94M697.20 241.44V259.45M699.69 251.15V280.94M700.94 259.67V277.57M702.19 263.16V274.86M705.93 260.26V269.74M709.68 252.68V267.74M710.93 253.39V263.11M712.17 253.89V263.46M713.42 249.83V260.08M715.92 246.72V257.25M717.17 248.54V261.18M718.41 253.23V265.38M719.66 258.03V272.42M722.16 265.15V283.68M723.41 267.36V286.08M725.90 264.48V283.97M727.15 274.32V289.04M729.65 285.85V303.69M730.89 291.54V317.95M732.14 304.69V331.91M734.64 307.56V353.00M739.63 301.78V317.30M740.88 305.10V322.17M742.13 306.22V319.82M744.62 305.25V320.62M747.12 312.18V325.54M754.61 279.65V289.78M755.85 279.49V289.07M759.60 280.31V286.62M760.85 277.91V288.12M764.59 278.26V285.06M767.09 277.93V286.68M773.33 191.96V205.31M778.32 175.24V191.77M779.57 184.30V195.99M780.81 189.14V202.23M782.06 189.98V211.20M784.56 193.97V214.28M785.81 190.43V208.21M788.30 178.26V197.69M790.80 182.80V196.91M792.05 183.89V198.95M797.04 174.62V185.15M798.29 183.47V197.45M799.53 185.07V201.23M800.78 186.25V199.41M804.53 184.58V205.94M807.02 190.29V203.49M813.26 162.60V180.85M814.51 168.17V181.65M815.76 173.81V191.48M817.01 177.55V201.14M819.50 185.12V200.79M820.75 190.14V201.56M822.00 192.66V206.42M823.25 197.85V210.12M825.74 203.11V227.74" stroke="#d0707c" stroke-width="0.7" fill="none" opacity="0.78"/>
<path d="M7.85 309.00h0.9v0.60h-0.9zM12.84 307.48h0.9v9.33h-0.9zM15.34 311.13h0.9v10.03h-0.9zM19.08 313.88h0.9v1.25h-0.9zM20.33 307.51h0.9v6.38h-0.9zM21.58 306.29h0.9v1.22h-0.9zM24.08 305.04h0.9v1.56h-0.9zM26.57 307.75h0.9v5.34h-0.9zM29.07 311.56h0.9v1.67h-0.9zM32.81 317.25h0.9v2.07h-0.9zM34.06 309.42h0.9v7.83h-0.9zM36.56 301.27h0.9v15.06h-0.9zM37.80 298.89h0.9v2.38h-0.9zM39.05 296.51h0.9v2.38h-0.9zM41.55 304.57h0.9v0.60h-0.9zM45.29 305.56h0.9v4.83h-0.9zM47.79 305.97h0.9v0.65h-0.9zM52.78 318.98h0.9v2.66h-0.9zM55.28 320.11h0.9v6.08h-0.9zM56.52 317.71h0.9v2.40h-0.9zM57.77 314.55h0.9v3.16h-0.9zM61.52 320.27h0.9v0.60h-0.9zM62.76 318.75h0.9v1.52h-0.9zM64.01 313.61h0.9v5.14h-0.9zM65.26 308.00h0.9v5.61h-0.9zM66.51 303.43h0.9v4.57h-0.9zM67.76 291.70h0.9v11.73h-0.9zM69.00 284.52h0.9v7.19h-0.9zM71.50 282.61h0.9v3.23h-0.9zM74.00 283.77h0.9v1.43h-0.9zM75.24 283.15h0.9v0.62h-0.9zM77.74 281.79h0.9v5.71h-0.9zM78.99 281.32h0.9v0.60h-0.9zM81.48 275.65h0.9v6.03h-0.9zM83.98 276.26h0.9v6.07h-0.9zM86.48 268.87h0.9v10.06h-0.9zM87.72 255.07h0.9v13.80h-0.9zM90.22 242.11h0.9v13.47h-0.9zM93.96 247.29h0.9v6.80h-0.9zM96.46 252.87h0.9v3.79h-0.9zM101.45 253.91h0.9v11.47h-0.9zM103.95 249.72h0.9v11.27h-0.9zM105.20 248.95h0.9v0.76h-0.9zM106.44 243.73h0.9v5.22h-0.9zM110.19 247.99h0.9v4.64h-0.9zM113.93 249.82h0.9v1.63h-0.9zM115.18 247.61h0.9v2.20h-0.9zM116.43 245.01h0.9v2.60h-0.9zM117.68 235.23h0.9v9.78h-0.9zM118.92 229.53h0.9v5.69h-0.9zM120.17 226.41h0.9v3.13h-0.9zM121.42 219.83h0.9v6.58h-0.9zM122.67 217.80h0.9v2.03h-0.9zM123.92 215.23h0.9v2.57h-0.9zM125.16 212.67h0.9v2.57h-0.9zM127.66 212.15h0.9v5.04h-0.9zM133.90 234.63h0.9v0.80h-0.9zM135.15 234.39h0.9v0.60h-0.9zM138.89 239.05h0.9v0.77h-0.9zM140.14 229.32h0.9v9.73h-0.9zM141.39 224.28h0.9v5.05h-0.9zM142.64 219.83h0.9v4.45h-0.9zM143.88 218.18h0.9v1.64h-0.9zM147.63 222.04h0.9v8.27h-0.9zM150.12 213.33h0.9v11.88h-0.9zM151.37 208.50h0.9v4.83h-0.9zM158.86 231.30h0.9v1.70h-0.9zM160.11 230.69h0.9v0.61h-0.9zM161.36 226.51h0.9v4.18h-0.9zM162.60 218.53h0.9v7.98h-0.9zM163.85 215.67h0.9v2.86h-0.9zM165.10 204.60h0.9v11.07h-0.9zM166.35 192.58h0.9v12.02h-0.9zM168.84 182.62h0.9v12.65h-0.9zM175.08 196.25h0.9v0.60h-0.9zM177.58 200.70h0.9v1.21h-0.9zM185.07 226.96h0.9v2.73h-0.9zM187.56 222.39h0.9v7.30h-0.9zM188.81 219.88h0.9v2.51h-0.9zM190.06 219.50h0.9v0.60h-0.9zM191.31 214.21h0.9v5.29h-0.9zM193.80 218.90h0.9v2.68h-0.9zM196.30 214.36h0.9v8.51h-0.9zM197.55 211.36h0.9v3.00h-0.9zM198.80 209.43h0.9v1.93h-0.9zM200.04 205.62h0.9v3.81h-0.9zM201.29 203.20h0.9v2.42h-0.9zM203.79 209.12h0.9v2.40h-0.9zM205.04 198.17h0.9v10.95h-0.9zM206.28 193.15h0.9v5.02h-0.9zM207.53 187.15h0.9v5.99h-0.9zM208.78 181.59h0.9v5.56h-0.9zM210.03 171.76h0.9v9.83h-0.9zM211.28 164.41h0.9v7.35h-0.9zM212.52 162.33h0.9v2.08h-0.9zM215.02 162.46h0.9v0.63h-0.9zM216.27 160.39h0.9v2.07h-0.9zM217.52 158.99h0.9v1.40h-0.9zM218.76 156.56h0.9v2.43h-0.9zM220.01 149.88h0.9v6.68h-0.9zM223.76 142.22h0.9v15.72h-0.9zM225.00 136.03h0.9v6.19h-0.9zM226.25 130.16h0.9v5.87h-0.9zM227.50 129.51h0.9v0.64h-0.9zM230.00 125.86h0.9v4.58h-0.9zM231.24 114.36h0.9v11.49h-0.9zM233.74 113.38h0.9v5.36h-0.9zM234.99 97.91h0.9v15.47h-0.9zM237.48 106.48h0.9v20.56h-0.9zM238.73 79.10h0.9v27.38h-0.9zM241.23 80.71h0.9v3.87h-0.9zM244.97 79.44h0.9v7.54h-0.9zM247.47 80.67h0.9v7.30h-0.9zM251.21 105.68h0.9v0.60h-0.9zM253.71 114.20h0.9v15.57h-0.9zM256.20 115.00h0.9v7.51h-0.9zM258.70 114.53h0.9v4.40h-0.9zM261.20 99.93h0.9v15.98h-0.9zM266.19 103.67h0.9v7.69h-0.9zM271.18 118.36h0.9v11.34h-0.9zM273.68 116.43h0.9v12.68h-0.9zM276.17 110.91h0.9v11.07h-0.9zM278.67 96.87h0.9v14.07h-0.9zM284.91 142.85h0.9v4.53h-0.9zM288.65 155.23h0.9v0.60h-0.9zM289.90 150.30h0.9v4.92h-0.9zM291.15 145.85h0.9v4.45h-0.9zM293.64 136.01h0.9v12.93h-0.9zM294.89 135.42h0.9v0.60h-0.9zM297.39 129.83h0.9v6.40h-0.9zM298.64 129.74h0.9v0.60h-0.9zM301.13 134.19h0.9v2.02h-0.9zM307.37 144.44h0.9v14.89h-0.9zM308.62 141.30h0.9v3.14h-0.9zM309.87 140.90h0.9v0.60h-0.9zM313.61 138.37h0.9v3.66h-0.9zM321.10 157.42h0.9v3.94h-0.9zM323.60 156.13h0.9v5.11h-0.9zM324.84 150.07h0.9v6.06h-0.9zM326.09 144.49h0.9v5.58h-0.9zM328.59 140.64h0.9v4.71h-0.9zM329.84 100.00h0.9v47.00h-0.9zM332.33 92.99h0.9v14.21h-0.9zM334.83 94.88h0.9v7.45h-0.9zM336.08 87.87h0.9v7.01h-0.9zM337.32 84.05h0.9v3.82h-0.9zM341.07 84.75h0.9v4.41h-0.9zM344.81 90.75h0.9v3.05h-0.9zM348.56 85.97h0.9v6.52h-0.9zM351.05 88.83h0.9v1.03h-0.9zM353.55 92.69h0.9v3.49h-0.9zM359.79 109.55h0.9v4.72h-0.9zM362.28 104.65h0.9v6.37h-0.9zM368.52 107.42h0.9v8.93h-0.9zM374.76 120.21h0.9v4.40h-0.9zM376.01 115.32h0.9v4.89h-0.9zM378.51 116.42h0.9v2.31h-0.9zM381.00 118.61h0.9v0.93h-0.9zM382.25 116.18h0.9v2.43h-0.9zM387.24 141.16h0.9v9.24h-0.9zM390.99 153.92h0.9v12.18h-0.9zM392.24 141.72h0.9v12.20h-0.9zM394.73 148.53h0.9v2.10h-0.9zM395.98 141.63h0.9v6.90h-0.9zM398.48 128.00h0.9v13.96h-0.9zM400.97 116.45h0.9v14.43h-0.9zM402.22 111.97h0.9v4.48h-0.9zM404.72 109.75h0.9v9.48h-0.9zM409.71 118.35h0.9v1.42h-0.9zM412.20 120.85h0.9v3.12h-0.9zM414.70 123.00h0.9v10.56h-0.9zM427.18 203.00h0.9v4.00h-0.9zM428.43 194.65h0.9v8.35h-0.9zM430.92 192.44h0.9v12.30h-0.9zM432.17 187.15h0.9v5.29h-0.9zM433.42 179.30h0.9v7.86h-0.9zM434.67 176.40h0.9v2.90h-0.9zM437.16 176.92h0.9v5.20h-0.9zM443.40 191.20h0.9v0.60h-0.9zM445.90 188.38h0.9v4.01h-0.9zM447.15 184.39h0.9v3.99h-0.9zM448.40 177.33h0.9v7.06h-0.9zM449.64 170.12h0.9v7.21h-0.9zM463.37 203.45h0.9v2.86h-0.9zM469.61 221.45h0.9v2.38h-0.9zM470.86 217.20h0.9v4.24h-0.9zM472.11 213.46h0.9v3.75h-0.9zM474.60 209.48h0.9v5.87h-0.9zM478.35 216.05h0.9v2.03h-0.9zM479.60 210.37h0.9v5.67h-0.9zM480.84 205.02h0.9v5.35h-0.9zM482.09 194.86h0.9v10.15h-0.9zM483.34 189.83h0.9v5.03h-0.9zM484.59 188.53h0.9v1.30h-0.9zM485.84 183.86h0.9v4.68h-0.9zM489.58 187.07h0.9v0.60h-0.9zM490.83 184.51h0.9v2.56h-0.9zM492.08 181.76h0.9v2.75h-0.9zM493.32 177.92h0.9v3.84h-0.9zM495.82 180.96h0.9v1.28h-0.9zM500.81 214.41h0.9v3.04h-0.9zM502.06 202.67h0.9v11.73h-0.9zM503.31 199.91h0.9v2.76h-0.9zM504.56 198.93h0.9v0.98h-0.9zM508.30 201.39h0.9v10.59h-0.9zM510.80 199.20h0.9v8.93h-0.9zM512.04 193.30h0.9v5.90h-0.9zM513.29 188.09h0.9v5.21h-0.9zM515.79 186.84h0.9v4.05h-0.9zM518.28 181.79h0.9v6.61h-0.9zM519.53 177.48h0.9v4.31h-0.9zM525.77 189.45h0.9v9.97h-0.9zM529.52 193.57h0.9v13.08h-0.9zM533.26 195.93h0.9v2.30h-0.9zM534.51 188.45h0.9v7.49h-0.9zM539.50 203.02h0.9v3.78h-0.9zM540.75 199.27h0.9v3.75h-0.9zM542.00 179.83h0.9v19.45h-0.9zM543.24 168.60h0.9v11.23h-0.9zM544.49 155.17h0.9v13.43h-0.9zM545.74 150.66h0.9v4.50h-0.9zM546.99 139.64h0.9v11.03h-0.9zM548.24 123.46h0.9v16.18h-0.9zM555.72 144.86h0.9v2.02h-0.9zM556.97 144.01h0.9v0.86h-0.9zM559.47 135.04h0.9v10.92h-0.9zM560.72 133.72h0.9v1.32h-0.9zM561.96 131.19h0.9v2.53h-0.9zM563.21 130.59h0.9v0.60h-0.9zM564.46 115.25h0.9v15.34h-0.9zM565.71 111.32h0.9v3.93h-0.9zM566.96 106.88h0.9v4.44h-0.9zM568.20 99.82h0.9v7.05h-0.9zM569.45 97.19h0.9v2.63h-0.9zM571.95 98.06h0.9v8.06h-0.9zM573.20 95.38h0.9v2.69h-0.9zM574.44 92.66h0.9v2.71h-0.9zM576.94 88.01h0.9v6.57h-0.9zM578.19 79.86h0.9v8.16h-0.9zM580.68 83.53h0.9v3.64h-0.9zM581.93 79.20h0.9v4.34h-0.9zM586.92 85.36h0.9v15.74h-0.9zM588.17 84.52h0.9v0.85h-0.9zM589.42 77.58h0.9v6.94h-0.9zM598.16 132.18h0.9v2.66h-0.9zM599.40 121.10h0.9v11.08h-0.9zM601.90 122.40h0.9v0.60h-0.9zM603.15 112.51h0.9v9.89h-0.9zM605.64 120.03h0.9v5.32h-0.9zM606.89 113.74h0.9v6.29h-0.9zM610.64 124.63h0.9v2.21h-0.9zM611.88 117.10h0.9v7.52h-0.9zM613.13 112.60h0.9v4.51h-0.9zM615.63 110.15h0.9v2.86h-0.9zM618.12 104.54h0.9v9.87h-0.9zM626.86 127.68h0.9v17.57h-0.9zM628.11 126.60h0.9v1.08h-0.9zM629.36 119.21h0.9v7.40h-0.9zM633.10 121.97h0.9v2.60h-0.9zM634.35 115.88h0.9v6.08h-0.9zM638.09 126.45h0.9v1.43h-0.9zM639.34 123.65h0.9v2.80h-0.9zM641.84 126.22h0.9v10.34h-0.9zM644.33 133.55h0.9v7.75h-0.9zM646.83 132.44h0.9v4.56h-0.9zM650.57 140.25h0.9v0.60h-0.9zM653.07 163.00h0.9v3.00h-0.9zM655.56 171.43h0.9v29.67h-0.9zM663.05 175.01h0.9v15.58h-0.9zM664.30 172.46h0.9v2.55h-0.9zM668.04 177.09h0.9v7.53h-0.9zM670.54 180.37h0.9v1.57h-0.9zM671.79 175.17h0.9v5.19h-0.9zM675.53 174.87h0.9v5.91h-0.9zM676.78 173.69h0.9v1.18h-0.9zM681.77 208.92h0.9v4.00h-0.9zM685.52 219.29h0.9v1.94h-0.9zM686.76 217.79h0.9v1.49h-0.9zM689.26 222.44h0.9v26.92h-0.9zM691.76 222.49h0.9v20.50h-0.9zM698.00 251.15h0.9v4.29h-0.9zM702.99 263.80h0.9v0.60h-0.9zM704.24 262.96h0.9v0.84h-0.9zM706.73 266.03h0.9v0.73h-0.9zM707.98 252.68h0.9v13.35h-0.9zM714.22 248.00h0.9v12.08h-0.9zM720.46 267.41h0.9v5.01h-0.9zM724.20 279.34h0.9v6.74h-0.9zM727.95 287.59h0.9v0.60h-0.9zM732.94 307.56h0.9v24.35h-0.9zM735.44 321.82h0.9v2.64h-0.9zM736.68 303.54h0.9v18.27h-0.9zM737.93 302.94h0.9v0.60h-0.9zM742.92 306.00h0.9v0.60h-0.9zM745.42 313.93h0.9v4.91h-0.9zM747.92 307.61h0.9v16.07h-0.9zM749.16 299.60h0.9v8.02h-0.9zM750.41 286.02h0.9v13.58h-0.9zM751.66 283.10h0.9v2.92h-0.9zM752.91 281.41h0.9v1.69h-0.9zM756.65 283.91h0.9v3.46h-0.9zM757.90 282.77h0.9v1.14h-0.9zM761.64 285.93h0.9v2.19h-0.9zM762.89 284.17h0.9v1.76h-0.9zM765.39 279.35h0.9v5.02h-0.9zM767.88 278.88h0.9v2.52h-0.9zM769.13 268.76h0.9v10.12h-0.9zM770.38 252.00h0.9v32.00h-0.9zM771.63 204.00h0.9v48.00h-0.9zM774.12 192.46h0.9v12.85h-0.9zM775.37 185.01h0.9v7.45h-0.9zM776.62 178.23h0.9v6.78h-0.9zM782.86 196.25h0.9v12.35h-0.9zM786.60 195.37h0.9v7.35h-0.9zM789.10 182.80h0.9v12.97h-0.9zM792.84 185.73h0.9v7.05h-0.9zM794.09 182.40h0.9v3.33h-0.9zM795.34 177.25h0.9v5.16h-0.9zM801.58 196.52h0.9v2.89h-0.9zM802.83 193.02h0.9v3.49h-0.9zM805.32 190.29h0.9v15.65h-0.9zM807.82 195.20h0.9v7.98h-0.9zM809.07 181.56h0.9v13.64h-0.9zM810.32 176.13h0.9v5.43h-0.9zM811.56 172.24h0.9v3.88h-0.9zM817.80 185.12h0.9v13.93h-0.9zM824.04 207.86h0.9v2.27h-0.9zM826.54 224.16h0.9v3.58h-0.9zM827.79 212.11h0.9v12.05h-0.9zM829.04 206.51h0.9v1.35h-0.9z" fill="#4e9e92" opacity="0.9"/>
<path d="M9.10 309.00h0.9v4.33h-0.9zM10.35 313.33h0.9v2.40h-0.9zM11.60 315.73h0.9v1.08h-0.9zM14.09 307.48h0.9v13.67h-0.9zM16.59 311.13h0.9v0.60h-0.9zM17.84 311.15h0.9v3.99h-0.9zM22.83 306.29h0.9v0.60h-0.9zM25.32 305.04h0.9v8.06h-0.9zM27.82 307.75h0.9v5.48h-0.9zM30.32 311.56h0.9v6.57h-0.9zM31.56 318.13h0.9v1.19h-0.9zM35.31 309.42h0.9v6.91h-0.9zM40.30 296.51h0.9v8.53h-0.9zM42.80 304.57h0.9v4.34h-0.9zM44.04 308.90h0.9v1.49h-0.9zM46.54 305.56h0.9v1.05h-0.9zM49.04 305.97h0.9v11.58h-0.9zM50.28 317.54h0.9v1.49h-0.9zM51.53 319.04h0.9v2.60h-0.9zM54.03 318.98h0.9v7.21h-0.9zM59.02 314.55h0.9v5.60h-0.9zM60.27 320.15h0.9v0.60h-0.9zM70.25 284.52h0.9v1.32h-0.9zM72.75 282.61h0.9v2.59h-0.9zM76.49 283.15h0.9v4.35h-0.9zM80.24 281.32h0.9v0.60h-0.9zM82.73 275.65h0.9v6.68h-0.9zM85.23 276.26h0.9v2.66h-0.9zM88.97 255.07h0.9v0.60h-0.9zM91.47 242.11h0.9v1.34h-0.9zM92.72 243.44h0.9v10.65h-0.9zM95.21 247.29h0.9v9.38h-0.9zM97.71 252.87h0.9v5.32h-0.9zM98.96 258.19h0.9v5.34h-0.9zM100.20 263.54h0.9v1.85h-0.9zM102.70 253.91h0.9v7.08h-0.9zM107.69 243.73h0.9v4.58h-0.9zM108.94 248.31h0.9v4.32h-0.9zM111.44 247.99h0.9v2.59h-0.9zM112.68 250.58h0.9v0.87h-0.9zM126.41 212.67h0.9v4.52h-0.9zM128.91 212.15h0.9v4.56h-0.9zM130.16 216.71h0.9v14.94h-0.9zM131.40 231.64h0.9v0.60h-0.9zM132.65 231.93h0.9v3.50h-0.9zM136.40 234.39h0.9v2.72h-0.9zM137.64 237.11h0.9v2.72h-0.9zM145.13 218.18h0.9v11.07h-0.9zM146.38 229.25h0.9v1.06h-0.9zM148.88 222.04h0.9v3.17h-0.9zM152.62 208.50h0.9v13.92h-0.9zM153.87 222.43h0.9v0.79h-0.9zM155.12 223.21h0.9v1.22h-0.9zM156.36 224.43h0.9v8.91h-0.9zM157.61 213.00h0.9v20.00h-0.9zM167.60 192.58h0.9v2.69h-0.9zM170.09 182.62h0.9v1.56h-0.9zM171.34 184.17h0.9v0.97h-0.9zM172.59 185.14h0.9v0.60h-0.9zM173.84 185.20h0.9v11.59h-0.9zM176.33 196.25h0.9v5.66h-0.9zM178.83 200.70h0.9v5.23h-0.9zM180.08 205.92h0.9v3.37h-0.9zM181.32 209.29h0.9v7.61h-0.9zM182.57 216.90h0.9v4.98h-0.9zM183.82 221.89h0.9v7.80h-0.9zM186.32 226.96h0.9v2.74h-0.9zM192.56 214.21h0.9v7.36h-0.9zM195.05 218.90h0.9v3.97h-0.9zM202.54 203.20h0.9v8.32h-0.9zM213.77 162.33h0.9v0.75h-0.9zM221.26 149.88h0.9v1.93h-0.9zM222.51 151.81h0.9v6.13h-0.9zM228.75 129.51h0.9v0.92h-0.9zM232.49 114.36h0.9v4.38h-0.9zM236.24 97.91h0.9v29.13h-0.9zM239.98 79.10h0.9v5.47h-0.9zM242.48 80.71h0.9v5.31h-0.9zM243.72 86.02h0.9v0.96h-0.9zM246.22 79.44h0.9v8.53h-0.9zM248.72 80.67h0.9v4.93h-0.9zM249.96 85.60h0.9v20.52h-0.9zM252.46 105.68h0.9v24.09h-0.9zM254.96 114.20h0.9v8.31h-0.9zM257.45 115.00h0.9v3.93h-0.9zM259.95 114.53h0.9v1.38h-0.9zM262.44 99.93h0.9v5.41h-0.9zM263.69 105.34h0.9v5.71h-0.9zM264.94 111.05h0.9v0.60h-0.9zM267.44 103.67h0.9v19.69h-0.9zM268.68 123.37h0.9v1.87h-0.9zM269.93 125.23h0.9v4.47h-0.9zM272.43 118.36h0.9v10.75h-0.9zM274.92 116.43h0.9v5.55h-0.9zM277.42 110.91h0.9v0.60h-0.9zM279.92 96.87h0.9v4.51h-0.9zM281.16 101.38h0.9v17.19h-0.9zM282.41 118.57h0.9v9.65h-0.9zM283.66 128.22h0.9v19.16h-0.9zM286.16 142.85h0.9v0.60h-0.9zM287.40 143.26h0.9v12.51h-0.9zM292.40 145.85h0.9v3.08h-0.9zM296.14 135.42h0.9v0.81h-0.9zM299.88 129.74h0.9v6.46h-0.9zM302.38 134.19h0.9v5.76h-0.9zM303.63 139.95h0.9v0.60h-0.9zM304.88 140.36h0.9v0.60h-0.9zM306.12 140.48h0.9v18.85h-0.9zM311.12 140.90h0.9v0.60h-0.9zM312.36 141.27h0.9v0.76h-0.9zM314.86 138.37h0.9v8.91h-0.9zM316.11 147.29h0.9v2.77h-0.9zM317.36 150.06h0.9v5.43h-0.9zM318.60 155.49h0.9v2.89h-0.9zM319.85 158.37h0.9v2.98h-0.9zM322.35 157.42h0.9v3.82h-0.9zM327.34 144.49h0.9v0.86h-0.9zM331.08 100.00h0.9v7.20h-0.9zM333.58 92.99h0.9v9.33h-0.9zM338.57 84.05h0.9v3.26h-0.9zM339.82 87.31h0.9v1.84h-0.9zM342.32 84.75h0.9v4.55h-0.9zM343.56 89.30h0.9v4.51h-0.9zM346.06 90.75h0.9v0.60h-0.9zM347.31 90.78h0.9v1.72h-0.9zM349.80 85.97h0.9v3.89h-0.9zM352.30 88.83h0.9v7.35h-0.9zM354.80 92.69h0.9v6.08h-0.9zM356.04 98.77h0.9v4.00h-0.9zM357.29 102.76h0.9v8.80h-0.9zM358.54 111.56h0.9v2.71h-0.9zM361.04 109.55h0.9v1.48h-0.9zM363.53 104.65h0.9v1.55h-0.9zM364.78 106.20h0.9v3.64h-0.9zM366.03 109.84h0.9v2.67h-0.9zM367.28 112.51h0.9v3.83h-0.9zM369.77 107.42h0.9v1.65h-0.9zM371.02 109.07h0.9v3.87h-0.9zM372.27 112.94h0.9v6.13h-0.9zM373.52 119.08h0.9v5.53h-0.9zM377.26 115.32h0.9v3.41h-0.9zM379.76 116.42h0.9v3.12h-0.9zM383.50 116.18h0.9v6.59h-0.9zM384.75 122.77h0.9v13.31h-0.9zM386.00 136.08h0.9v14.32h-0.9zM388.49 141.16h0.9v24.48h-0.9zM389.74 165.64h0.9v0.60h-0.9zM393.48 141.72h0.9v8.91h-0.9zM397.23 141.63h0.9v0.60h-0.9zM399.72 128.00h0.9v2.88h-0.9zM403.47 111.97h0.9v7.26h-0.9zM405.96 109.75h0.9v2.81h-0.9zM407.21 112.56h0.9v5.58h-0.9zM408.46 118.14h0.9v1.63h-0.9zM410.96 118.35h0.9v5.62h-0.9zM413.45 120.85h0.9v12.71h-0.9zM415.95 123.00h0.9v2.45h-0.9zM417.20 125.45h0.9v0.60h-0.9zM418.44 126.01h0.9v6.72h-0.9zM419.69 132.73h0.9v5.64h-0.9zM420.94 138.37h0.9v13.03h-0.9zM422.19 151.40h0.9v9.60h-0.9zM423.44 161.01h0.9v14.85h-0.9zM424.68 175.86h0.9v20.61h-0.9zM425.93 180.00h0.9v27.00h-0.9zM429.68 194.65h0.9v10.09h-0.9zM435.92 176.40h0.9v5.72h-0.9zM438.41 176.92h0.9v2.88h-0.9zM439.66 179.80h0.9v4.26h-0.9zM440.91 184.06h0.9v2.13h-0.9zM442.16 186.19h0.9v5.03h-0.9zM444.65 191.20h0.9v1.19h-0.9zM450.89 170.12h0.9v3.51h-0.9zM452.14 173.63h0.9v8.35h-0.9zM453.39 181.98h0.9v10.09h-0.9zM454.64 192.08h0.9v1.96h-0.9zM455.88 194.04h0.9v1.53h-0.9zM457.13 195.56h0.9v3.55h-0.9zM458.38 199.11h0.9v2.39h-0.9zM459.63 201.50h0.9v3.92h-0.9zM460.88 205.42h0.9v0.60h-0.9zM462.12 205.96h0.9v0.60h-0.9zM464.62 203.45h0.9v9.35h-0.9zM465.87 212.80h0.9v2.57h-0.9zM467.12 215.37h0.9v3.15h-0.9zM468.36 218.52h0.9v5.30h-0.9zM473.36 213.46h0.9v1.89h-0.9zM475.85 209.48h0.9v5.30h-0.9zM477.10 214.78h0.9v3.30h-0.9zM487.08 183.86h0.9v3.24h-0.9zM488.33 187.09h0.9v0.60h-0.9zM494.57 177.92h0.9v4.32h-0.9zM497.07 180.96h0.9v17.97h-0.9zM498.32 198.93h0.9v9.25h-0.9zM499.56 208.18h0.9v9.27h-0.9zM505.80 198.93h0.9v10.90h-0.9zM507.05 209.83h0.9v2.14h-0.9zM509.55 201.39h0.9v6.74h-0.9zM514.54 188.09h0.9v2.81h-0.9zM517.04 186.84h0.9v1.56h-0.9zM520.78 177.48h0.9v3.75h-0.9zM522.03 181.23h0.9v4.73h-0.9zM523.28 185.96h0.9v4.27h-0.9zM524.52 190.23h0.9v9.19h-0.9zM527.02 189.45h0.9v12.17h-0.9zM528.27 201.63h0.9v5.02h-0.9zM530.76 193.57h0.9v2.78h-0.9zM532.01 196.35h0.9v1.88h-0.9zM535.76 188.45h0.9v11.95h-0.9zM537.00 200.40h0.9v2.49h-0.9zM538.25 202.90h0.9v3.90h-0.9zM549.48 123.46h0.9v3.67h-0.9zM550.73 127.13h0.9v3.25h-0.9zM551.98 130.38h0.9v7.50h-0.9zM553.23 137.88h0.9v7.74h-0.9zM554.48 145.62h0.9v1.27h-0.9zM558.22 144.01h0.9v1.95h-0.9zM570.70 97.19h0.9v8.93h-0.9zM575.69 92.66h0.9v1.91h-0.9zM579.44 79.86h0.9v7.32h-0.9zM583.18 79.20h0.9v14.25h-0.9zM584.43 93.44h0.9v4.03h-0.9zM585.68 97.48h0.9v3.63h-0.9zM590.67 77.58h0.9v5.68h-0.9zM591.92 83.26h0.9v2.47h-0.9zM593.16 85.73h0.9v3.18h-0.9zM594.41 88.91h0.9v11.11h-0.9zM595.66 100.02h0.9v17.03h-0.9zM596.91 117.05h0.9v17.78h-0.9zM600.65 121.10h0.9v1.32h-0.9zM604.40 112.51h0.9v12.84h-0.9zM608.14 113.74h0.9v11.02h-0.9zM609.39 124.76h0.9v2.09h-0.9zM614.38 112.60h0.9v0.60h-0.9zM616.88 110.15h0.9v4.26h-0.9zM619.37 104.54h0.9v7.00h-0.9zM620.62 111.54h0.9v2.35h-0.9zM621.87 113.88h0.9v5.06h-0.9zM623.12 118.95h0.9v12.25h-0.9zM624.36 131.19h0.9v8.54h-0.9zM625.61 139.74h0.9v5.51h-0.9zM630.60 119.21h0.9v2.27h-0.9zM631.85 121.47h0.9v3.09h-0.9zM635.60 115.88h0.9v0.60h-0.9zM636.84 116.20h0.9v11.67h-0.9zM640.59 123.65h0.9v12.91h-0.9zM643.08 126.22h0.9v15.09h-0.9zM645.58 133.55h0.9v3.45h-0.9zM648.08 132.44h0.9v5.10h-0.9zM649.32 137.54h0.9v2.72h-0.9zM651.82 140.25h0.9v22.21h-0.9zM654.32 163.00h0.9v38.10h-0.9zM656.81 171.43h0.9v4.73h-0.9zM658.06 176.16h0.9v0.88h-0.9zM659.31 177.04h0.9v8.61h-0.9zM660.56 185.65h0.9v3.31h-0.9zM661.80 188.96h0.9v1.63h-0.9zM665.55 172.46h0.9v12.01h-0.9zM666.80 184.48h0.9v0.60h-0.9zM669.29 177.09h0.9v4.85h-0.9zM673.04 175.17h0.9v1.87h-0.9zM674.28 177.04h0.9v3.74h-0.9zM678.03 173.69h0.9v5.96h-0.9zM679.28 179.65h0.9v11.10h-0.9zM680.52 190.75h0.9v22.17h-0.9zM683.02 208.92h0.9v3.08h-0.9zM684.27 212.00h0.9v9.23h-0.9zM688.01 217.79h0.9v31.56h-0.9zM690.51 222.44h0.9v20.55h-0.9zM693.00 222.49h0.9v17.38h-0.9zM694.25 239.87h0.9v5.11h-0.9zM695.50 244.98h0.9v1.76h-0.9zM696.75 246.73h0.9v8.71h-0.9zM699.24 251.15h0.9v8.53h-0.9zM700.49 259.67h0.9v3.49h-0.9zM701.74 263.16h0.9v0.82h-0.9zM705.48 262.96h0.9v3.80h-0.9zM709.23 252.68h0.9v0.71h-0.9zM710.48 253.39h0.9v0.81h-0.9zM711.72 254.20h0.9v2.31h-0.9zM712.97 256.51h0.9v3.57h-0.9zM715.47 248.00h0.9v6.29h-0.9zM716.72 254.28h0.9v5.95h-0.9zM717.96 260.23h0.9v5.15h-0.9zM719.21 265.38h0.9v7.04h-0.9zM721.71 267.41h0.9v16.01h-0.9zM722.96 283.42h0.9v2.66h-0.9zM725.45 279.34h0.9v4.63h-0.9zM726.70 283.97h0.9v3.69h-0.9zM729.20 287.59h0.9v16.10h-0.9zM730.44 303.69h0.9v12.66h-0.9zM731.69 316.35h0.9v15.56h-0.9zM734.19 307.56h0.9v16.90h-0.9zM739.18 302.94h0.9v2.50h-0.9zM740.43 305.44h0.9v0.78h-0.9zM741.68 306.22h0.9v0.60h-0.9zM744.17 306.00h0.9v12.84h-0.9zM746.67 313.93h0.9v9.75h-0.9zM754.16 281.41h0.9v2.15h-0.9zM755.40 283.56h0.9v3.82h-0.9zM759.15 282.77h0.9v3.01h-0.9zM760.40 285.78h0.9v2.34h-0.9zM764.14 284.17h0.9v0.60h-0.9zM766.64 279.35h0.9v2.04h-0.9zM772.88 204.00h0.9v1.31h-0.9zM777.87 178.23h0.9v12.82h-0.9zM779.12 191.05h0.9v4.33h-0.9zM780.36 195.38h0.9v3.49h-0.9zM781.61 198.86h0.9v9.74h-0.9zM784.11 196.25h0.9v6.26h-0.9zM785.36 202.51h0.9v0.60h-0.9zM787.85 195.37h0.9v0.60h-0.9zM790.35 182.80h0.9v1.08h-0.9zM791.60 183.89h0.9v8.89h-0.9zM796.59 177.25h0.9v7.90h-0.9zM797.84 185.15h0.9v7.36h-0.9zM799.08 192.51h0.9v6.80h-0.9zM800.33 199.30h0.9v0.60h-0.9zM804.08 193.02h0.9v12.92h-0.9zM806.57 190.29h0.9v12.89h-0.9zM812.81 172.24h0.9v7.37h-0.9zM814.06 179.61h0.9v2.04h-0.9zM815.31 181.65h0.9v7.78h-0.9zM816.56 189.43h0.9v9.62h-0.9zM819.05 185.12h0.9v8.99h-0.9zM820.30 194.12h0.9v7.44h-0.9zM821.55 201.56h0.9v3.51h-0.9zM822.80 205.07h0.9v5.05h-0.9zM825.29 207.86h0.9v19.88h-0.9z" fill="#d0707c" opacity="0.78"/>
</g>
<path d="M527 70.5H970M637 162.7H970" stroke="#555" stroke-width="1" fill="none"/>
<path d="M139 177.8H242.2" stroke="#8c8c8c" stroke-width="1.1"/>
<path d="M157.6 183.6A12.9 12.6 0 0 1 183.4 184.9M803.1 168.5A10.3 12.4 0 0 1 823.7 168.8" stroke="#131722" stroke-width="1.3" fill="none"/>
<path d="M47.0 286.5L102.6 211.9M102.8 217.4L102.6 211.9L97.3 213.3M174.4 183.1L195.7 236.0M190.9 233.3L195.7 236.0L197.3 230.7M735.9 303.3L759.8 193.9M762.3 198.8L759.8 193.9L755.5 197.3M815.9 164.6L840.6 234.6M835.9 231.7L840.6 234.6L842.4 229.4" stroke="#3a3a3a" stroke-width="1.1" fill="none" stroke-linejoin="miter"/>
<path d="M166.8 394.1L187 419.3M187.0 419.3L195.0 410.4M194.7 415.2L195.0 410.4L190.3 411.2M811.2 394.9L827.5 424.2M827.5 424.2L833.6 409.2M835.0 413.8L833.6 409.2L829.4 411.5" stroke="#333" stroke-width="1.35" fill="none" stroke-linejoin="miter"/>
<text x="7.5" y="14.1" font-size="8.4" fill="#333" stroke="#333" stroke-width="0.2" textLength="274" lengthAdjust="spacingAndGlyphs" font-family="Liberation Sans, Arial, sans-serif">muthonikiama09 published on TradingView.com, Jun 24, 2025 07:21 UTC</text>
<text x="12.9" y="33.4" font-size="8.3" fill="#333" stroke="#333" stroke-width="0.2" textLength="137.8" lengthAdjust="spacingAndGlyphs" font-family="Liberation Sans, Arial, sans-serif">Ethereum / TetherUS · 1D · BINANCE</text>
<text x="156.6" y="33.4" font-size="8.3" fill="#333" stroke="#333" stroke-width="0.2" textLength="5.0" lengthAdjust="spacingAndGlyphs" font-family="Liberation Sans, Arial, sans-serif">O</text>
<text x="162.6" y="33.4" font-size="8.3" fill="#3aa898" stroke="#3aa898" stroke-width="0.2" textLength="32.2" lengthAdjust="spacingAndGlyphs" font-family="Liberation Sans, Arial, sans-serif">2,411.66</text>
<text x="200.5" y="33.4" font-size="8.3" fill="#333" stroke="#333" stroke-width="0.2" textLength="4.1" lengthAdjust="spacingAndGlyphs" font-family="Liberation Sans, Arial, sans-serif">H</text>
<text x="205.6" y="33.4" font-size="8.3" fill="#3aa898" stroke="#3aa898" stroke-width="0.2" textLength="32.3" lengthAdjust="spacingAndGlyphs" font-family="Liberation Sans, Arial, sans-serif">2,434.82</text>
<text x="243.7" y="33.4" font-size="8.3" fill="#333" stroke="#333" stroke-width="0.2" textLength="3.4" lengthAdjust="spacingAndGlyphs" font-family="Liberation Sans, Arial, sans-serif">L</text>
<text x="247.4" y="33.4" font-size="8.3" fill="#3aa898" stroke="#3aa898" stroke-width="0.2" textLength="32.8" lengthAdjust="spacingAndGlyphs" font-family="Liberation Sans, Arial, sans-serif">2,389.31</text>
<text x="286.4" y="33.4" font-size="8.3" fill="#333" stroke="#333" stroke-width="0.2" textLength="4.6" lengthAdjust="spacingAndGlyphs" font-family="Liberation Sans, Arial, sans-serif">C</text>
<text x="291.5" y="33.4" font-size="8.3" fill="#3aa898" stroke="#3aa898" stroke-width="0.2" textLength="32.4" lengthAdjust="spacingAndGlyphs" font-family="Liberation Sans, Arial, sans-serif">2,424.18</text>
<text x="329.8" y="33.4" font-size="8.3" fill="#3aa898" stroke="#3aa898" stroke-width="0.2" textLength="59.2" lengthAdjust="spacingAndGlyphs" font-family="Liberation Sans, Arial, sans-serif">+12.52 (+0.52%)</text>
<text x="976.7" y="63.2" font-size="8.5" fill="#1e222d" stroke="#1e222d" stroke-width="0.2" textLength="33.3" lengthAdjust="spacingAndGlyphs" font-family="Liberation Sans, Arial, sans-serif">4,250.00</text>
<text x="976.7" y="89.0" font-size="8.5" fill="#1e222d" stroke="#1e222d" stroke-width="0.2" textLength="33.3" lengthAdjust="spacingAndGlyphs" font-family="Liberation Sans, Arial, sans-serif">3,850.00</text>
<text x="976.7" y="117.5" font-size="8.5" fill="#1e222d" stroke="#1e222d" stroke-width="0.2" textLength="33.3" lengthAdjust="spacingAndGlyphs" font-family="Liberation Sans, Arial, sans-serif">3,450.00</text>
<text x="976.7" y="149.7" font-size="8.5" fill="#1e222d" stroke="#1e222d" stroke-width="0.2" textLength="33.3" lengthAdjust="spacingAndGlyphs" font-family="Liberation Sans, Arial, sans-serif">3,050.00</text>
<text x="976.7" y="186.3" font-size="8.5" fill="#1e222d" stroke="#1e222d" stroke-width="0.2" textLength="33.3" lengthAdjust="spacingAndGlyphs" font-family="Liberation Sans, Arial, sans-serif">2,650.00</text>
<text x="976.7" y="217.6" font-size="8.5" fill="#1e222d" stroke="#1e222d" stroke-width="0.2" textLength="33.3" lengthAdjust="spacingAndGlyphs" font-family="Liberation Sans, Arial, sans-serif">2,350.00</text>
<text x="976.7" y="240.8" font-size="8.5" fill="#1e222d" stroke="#1e222d" stroke-width="0.2" textLength="33.3" lengthAdjust="spacingAndGlyphs" font-family="Liberation Sans, Arial, sans-serif">2,150.00</text>
<text x="976.7" y="266.2" font-size="8.5" fill="#1e222d" stroke="#1e222d" stroke-width="0.2" textLength="33.3" lengthAdjust="spacingAndGlyphs" font-family="Liberation Sans, Arial, sans-serif">1,950.00</text>
<text x="976.7" y="288.5" font-size="8.5" fill="#1e222d" stroke="#1e222d" stroke-width="0.2" textLength="33.3" lengthAdjust="spacingAndGlyphs" font-family="Liberation Sans, Arial, sans-serif">1,790.00</text>
<text x="976.7" y="312.9" font-size="8.5" fill="#1e222d" stroke="#1e222d" stroke-width="0.2" textLength="33.3" lengthAdjust="spacingAndGlyphs" font-family="Liberation Sans, Arial, sans-serif">1,630.00</text>
<text x="976.7" y="336.3" font-size="8.5" fill="#1e222d" stroke="#1e222d" stroke-width="0.2" textLength="33.3" lengthAdjust="spacingAndGlyphs" font-family="Liberation Sans, Arial, sans-serif">1,490.00</text>
<text x="976.7" y="358.2" font-size="8.5" fill="#1e222d" stroke="#1e222d" stroke-width="0.2" textLength="33.3" lengthAdjust="spacingAndGlyphs" font-family="Liberation Sans, Arial, sans-serif">1,370.00</text>
<rect x="971.4" y="65.0" width="42.2" height="11.2" rx="1" fill="#131722"/>
<text x="976.7" y="73.6" font-size="8.5" fill="#fff" stroke="#fff" stroke-width="0.2" textLength="33.3" lengthAdjust="spacingAndGlyphs" font-family="Liberation Sans, Arial, sans-serif">4,097.13</text>
<rect x="971.4" y="157.2" width="42.2" height="11.2" rx="1" fill="#131722"/>
<text x="976.7" y="165.8" font-size="8.5" fill="#fff" stroke="#fff" stroke-width="0.2" textLength="33.3" lengthAdjust="spacingAndGlyphs" font-family="Liberation Sans, Arial, sans-serif">2,880.47</text>
<rect x="971.4" y="201.5" width="42.2" height="11.2" rx="1" fill="#089981"/>
<text x="976.7" y="210.1" font-size="8.5" fill="#fff" stroke="#fff" stroke-width="0.2" textLength="33.3" lengthAdjust="spacingAndGlyphs" font-family="Liberation Sans, Arial, sans-serif">2,424.18</text>
<rect x="973.5" y="22.5" width="40" height="17" rx="2" fill="#fff" stroke="#eef0f3"/>
<text x="979.4" y="33.7" font-size="8.6" fill="#1e222d" stroke="#1e222d" stroke-width="0.2" textLength="19.4" lengthAdjust="spacingAndGlyphs" font-family="Liberation Sans, Arial, sans-serif">USDT</text>
<text x="976.7" y="384.1" font-size="8.5" fill="#1e222d" stroke="#1e222d" stroke-width="0.2" textLength="20.6" lengthAdjust="spacingAndGlyphs" font-family="Liberation Sans, Arial, sans-serif">75.00</text>
<text x="976.7" y="426.7" font-size="8.5" fill="#1e222d" stroke="#1e222d" stroke-width="0.2" textLength="20.6" lengthAdjust="spacingAndGlyphs" font-family="Liberation Sans, Arial, sans-serif">25.00</text>
<text x="34.1" y="445.9" font-size="8.6" fill="#1e222d" stroke="#1e222d" stroke-width="0.2" textLength="13.2" lengthAdjust="spacingAndGlyphs" font-family="Liberation Sans, Arial, sans-serif">Oct</text>
<text x="72.5" y="445.9" font-size="8.6" fill="#1e222d" stroke="#1e222d" stroke-width="0.2" textLength="13.8" lengthAdjust="spacingAndGlyphs" font-family="Liberation Sans, Arial, sans-serif">Nov</text>
<text x="110.2" y="445.9" font-size="8.6" fill="#1e222d" stroke="#1e222d" stroke-width="0.2" textLength="13.3" lengthAdjust="spacingAndGlyphs" font-family="Liberation Sans, Arial, sans-serif">Dec</text>
<text x="146.2" y="445.9" font-size="8.6" fill="#1e222d" stroke="#1e222d" stroke-width="0.2" textLength="18.8" lengthAdjust="spacingAndGlyphs" font-weight="bold" font-family="Liberation Sans, Arial, sans-serif">2024</text>
<text x="223.5" y="445.9" font-size="8.6" fill="#1e222d" stroke="#1e222d" stroke-width="0.2" textLength="13.8" lengthAdjust="spacingAndGlyphs" font-family="Liberation Sans, Arial, sans-serif">Mar</text>
<text x="262.9" y="445.9" font-size="8.6" fill="#1e222d" stroke="#1e222d" stroke-width="0.2" textLength="12.5" lengthAdjust="spacingAndGlyphs" font-family="Liberation Sans, Arial, sans-serif">Apr</text>
<text x="299.4" y="445.9" font-size="8.6" fill="#1e222d" stroke="#1e222d" stroke-width="0.2" textLength="14.3" lengthAdjust="spacingAndGlyphs" font-family="Liberation Sans, Arial, sans-serif">May</text>
<text x="338.6" y="445.9" font-size="8.6" fill="#1e222d" stroke="#1e222d" stroke-width="0.2" textLength="13.3" lengthAdjust="spacingAndGlyphs" font-family="Liberation Sans, Arial, sans-serif">Jun</text>
<text x="377.5" y="445.9" font-size="8.6" fill="#1e222d" stroke="#1e222d" stroke-width="0.2" textLength="10.5" lengthAdjust="spacingAndGlyphs" font-family="Liberation Sans, Arial, sans-serif">Jul</text>
<text x="414.5" y="445.9" font-size="8.6" fill="#1e222d" stroke="#1e222d" stroke-width="0.2" textLength="13.8" lengthAdjust="spacingAndGlyphs" font-family="Liberation Sans, Arial, sans-serif">Aug</text>
<text x="453.2" y="445.9" font-size="8.6" fill="#1e222d" stroke="#1e222d" stroke-width="0.2" textLength="13.8" lengthAdjust="spacingAndGlyphs" font-family="Liberation Sans, Arial, sans-serif">Sep</text>
<text x="490.9" y="445.9" font-size="8.6" fill="#1e222d" stroke="#1e222d" stroke-width="0.2" textLength="13.2" lengthAdjust="spacingAndGlyphs" font-family="Liberation Sans, Arial, sans-serif">Oct</text>
<text x="529.3" y="445.9" font-size="8.6" fill="#1e222d" stroke="#1e222d" stroke-width="0.2" textLength="13.8" lengthAdjust="spacingAndGlyphs" font-family="Liberation Sans, Arial, sans-serif">Nov</text>
<text x="567.0" y="445.9" font-size="8.6" fill="#1e222d" stroke="#1e222d" stroke-width="0.2" textLength="13.3" lengthAdjust="spacingAndGlyphs" font-family="Liberation Sans, Arial, sans-serif">Dec</text>
<text x="602.9" y="445.9" font-size="8.6" fill="#1e222d" stroke="#1e222d" stroke-width="0.2" textLength="18.8" lengthAdjust="spacingAndGlyphs" font-weight="bold" font-family="Liberation Sans, Arial, sans-serif">2025</text>
<text x="679.1" y="445.9" font-size="8.6" fill="#1e222d" stroke="#1e222d" stroke-width="0.2" textLength="13.8" lengthAdjust="spacingAndGlyphs" font-family="Liberation Sans, Arial, sans-serif">Mar</text>
<text x="718.4" y="445.9" font-size="8.6" fill="#1e222d" stroke="#1e222d" stroke-width="0.2" textLength="12.5" lengthAdjust="spacingAndGlyphs" font-family="Liberation Sans, Arial, sans-serif">Apr</text>
<text x="754.9" y="445.9" font-size="8.6" fill="#1e222d" stroke="#1e222d" stroke-width="0.2" textLength="14.3" lengthAdjust="spacingAndGlyphs" font-family="Liberation Sans, Arial, sans-serif">May</text>
<text x="794.1" y="445.9" font-size="8.6" fill="#1e222d" stroke="#1e222d" stroke-width="0.2" textLength="13.3" lengthAdjust="spacingAndGlyphs" font-family="Liberation Sans, Arial, sans-serif">Jun</text>
<text x="833.0" y="445.9" font-size="8.6" fill="#1e222d" stroke="#1e222d" stroke-width="0.2" textLength="10.5" lengthAdjust="spacingAndGlyphs" font-family="Liberation Sans, Arial, sans-serif">Jul</text>
<text x="870.0" y="445.9" font-size="8.6" fill="#1e222d" stroke="#1e222d" stroke-width="0.2" textLength="13.8" lengthAdjust="spacingAndGlyphs" font-family="Liberation Sans, Arial, sans-serif">Aug</text>
<text x="908.7" y="445.9" font-size="8.6" fill="#1e222d" stroke="#1e222d" stroke-width="0.2" textLength="13.8" lengthAdjust="spacingAndGlyphs" font-family="Liberation Sans, Arial, sans-serif">Sep</text>
<text x="946.4" y="445.9" font-size="8.6" fill="#1e222d" stroke="#1e222d" stroke-width="0.2" textLength="13.2" lengthAdjust="spacingAndGlyphs" font-family="Liberation Sans, Arial, sans-serif">Oct</text>
<text x="12.9" y="380.3" font-size="8.6" fill="#333" stroke="#333" stroke-width="0.2" textLength="53.7" lengthAdjust="spacingAndGlyphs" font-family="Liberation Sans, Arial, sans-serif">RSI (14, close)</text>
<text x="72.2" y="380.3" font-size="8.6" fill="#8d7cc8" stroke="#8d7cc8" stroke-width="0.2" textLength="20.8" lengthAdjust="spacingAndGlyphs" font-family="Liberation Sans, Arial, sans-serif">46.69</text>
<text x="24.4" y="468.7" font-size="8.7" fill="#333" stroke="#333" stroke-width="0.2" textLength="48.5" lengthAdjust="spacingAndGlyphs" font-family="Liberation Sans, Arial, sans-serif">TradingView</text>
<path d="M7.2 462H13V468.6H10V464.7H7.2Z M17.3 462H20.9L18.3 468.6H15Z" fill="#000"/><circle cx="14.9" cy="463.4" r="1.45" fill="#000"/>
</svg>
</body></html>
